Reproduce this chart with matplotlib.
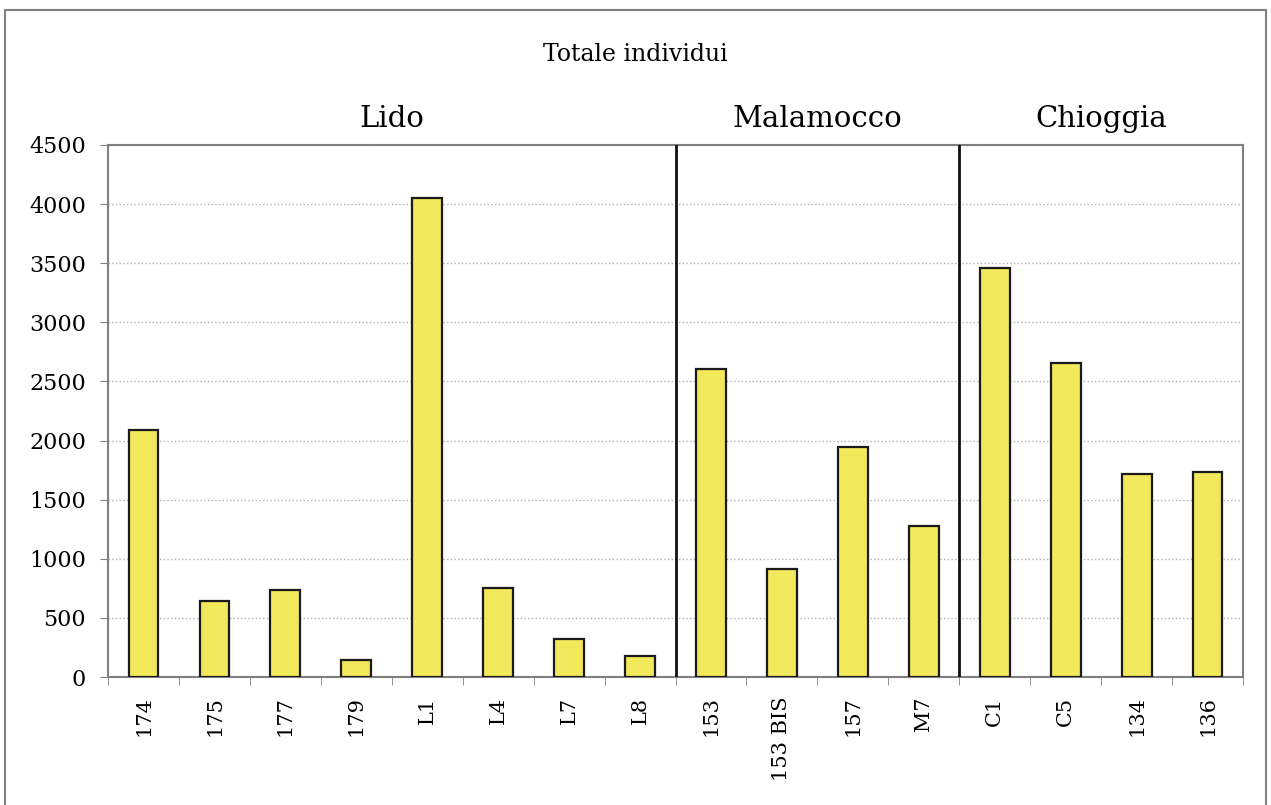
import matplotlib.pyplot as plt
from matplotlib.patches import Rectangle

# Dati
stazioni = ["174", "175", "177", "179", "L1", "L4", "L7", "L8",
            "153", "153 BIS", "157", "M7", "C1", "C5", "134", "136"]
individui = [2090, 647, 735, 142, 4050, 753, 318, 175,
             2604, 910, 1942, 1276, 3457, 2652, 1715, 1730]
zone = ["Lido", "Malamocco", "Chioggia"]
zone_n = [8, 4, 4]

plt.rcParams['font.family'] = ['DejaVu Serif']

fig = plt.figure(figsize=(12.71, 8.05), dpi=100)
ax = fig.add_axes([0.085, 0.159, 0.893, 0.661])

x = list(range(len(stazioni)))
ax.bar(x, individui, width=0.42, color='#F2E85C', edgecolor='#1a1a1a', linewidth=1.6, zorder=3)

ax.set_xlim(-0.5, len(stazioni) - 0.5)
ax.set_ylim(0, 4500)
ax.set_yticks(range(0, 4501, 500))
ax.tick_params(axis='y', labelsize=16, length=6, color='#808080', direction='out', pad=10)
ax.set_xticks(x)
ax.set_xticklabels(stazioni, rotation=90, fontsize=15)
ax.tick_params(axis='x', length=0, pad=14)
# tacche tra le categorie
ax.set_xticks([i - 0.5 for i in range(len(stazioni) + 1)], minor=True)
ax.tick_params(axis='x', which='minor', length=6, color='#808080', direction='out')

ax.grid(axis='y', linestyle=':', color='#b0b0b0', linewidth=1, zorder=0)
for s in ax.spines.values():
    s.set_color('#808080')
    s.set_linewidth(1.5)

# separatori tra le zone e nomi delle zone
start = 0
for i, (z, n) in enumerate(zip(zone, zone_n)):
    ax.text(start + (n - 1) / 2, 4600, z, ha='center', va='bottom', fontsize=21)
    if i < len(zone) - 1:
        ax.axvline(start + n - 0.5, color='#111111', linewidth=2, zorder=4)
    start += n

fig.text(0.5, 0.932, "Totale individui", ha='center', va='center', fontsize=17)

fig.patches.append(Rectangle((5 / 1271, -0.01), 1261 / 1271, 1 - 10 / 805 + 0.01,
                             transform=fig.transFigure, fill=False,
                             edgecolor='#808080', linewidth=1.5))

fig.savefig("out.png", dpi=100)
